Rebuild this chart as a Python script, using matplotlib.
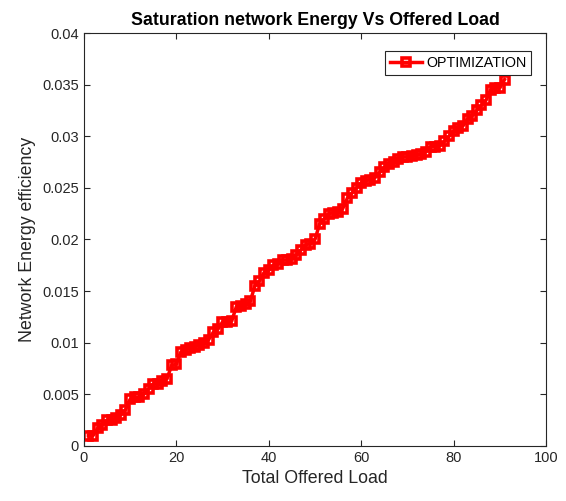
import numpy as np
import matplotlib
matplotlib.use('Agg')
import matplotlib.pyplot as plt

plt.rcParams['font.family'] = ['Liberation Sans', 'DejaVu Sans']

# offered load (x) and network energy efficiency (y)
load = list(range(1, 92))
energy = [0.0010, 0.0010, 0.0017, 0.0020, 0.0025, 0.0025, 0.0027, 0.0030, 0.0035, 0.0045,
          0.0047, 0.0047, 0.0050, 0.0055, 0.0060, 0.0060, 0.0063, 0.0065, 0.0078, 0.0079,
          0.0091, 0.0093, 0.0095, 0.0096, 0.0098, 0.0100, 0.0103, 0.0110, 0.0113, 0.0120,
          0.0120, 0.0121, 0.0135, 0.0136, 0.0137, 0.0140, 0.0155, 0.0160, 0.0168, 0.0170,
          0.0175, 0.0176, 0.0180, 0.0180, 0.0181, 0.0185, 0.0190, 0.0195, 0.0196, 0.0200,
          0.0215, 0.0220, 0.0225, 0.0226, 0.0227, 0.0230, 0.0240, 0.0245, 0.0250, 0.0255,
          0.0257, 0.0258, 0.0260, 0.0265, 0.0270, 0.0273, 0.0275, 0.0278, 0.0280, 0.0280,
          0.0281, 0.0282, 0.0283, 0.0285, 0.0290, 0.0290, 0.0291, 0.0295, 0.0300, 0.0305,
          0.0308, 0.0310, 0.0317, 0.0320, 0.0325, 0.0330, 0.0335, 0.0345, 0.0347, 0.0347,
          0.0355]

fig = plt.figure(figsize=(5.66, 5.01), dpi=100)
ax = fig.add_axes([0.148, 0.110, 0.817, 0.824])

ax.plot(load, energy, color='red', lw=2.5, marker='s', ms=5.5, mfc='none', mew=2.6,
        label='OPTIMIZATION')

ax.set_xlim(0, 100)
ax.set_ylim(0, 0.04)
ax.set_xticks(np.arange(0, 101, 20))
ax.set_yticks(np.arange(0, 0.0401, 0.005))
ax.set_yticklabels(['0', '0.005', '0.01', '0.015', '0.02', '0.025', '0.03', '0.035', '0.04'])
ax.tick_params(direction='in', top=True, right=True, labelsize=10.5, colors='#262626', length=4)
for s in ax.spines.values():
    s.set_color('#262626')

ax.set_xlabel('Total Offered Load', fontsize=12.8, color='#262626')
ax.set_ylabel('Network Energy efficiency', fontsize=12.8, color='#262626')
ax.set_title('Saturation network Energy Vs Offered Load', fontsize=12.8, fontweight='bold')

leg = ax.legend(loc='upper right', fontsize=10.3, fancybox=False, framealpha=1,
                edgecolor='#262626', handlelength=2.2, borderpad=0.35, handletextpad=0.3,
                bbox_to_anchor=(0.983, 0.975))
leg.get_frame().set_linewidth(0.8)
leg.legend_handles[0].set_markersize(6)

plt.savefig('out.png', dpi=100)
